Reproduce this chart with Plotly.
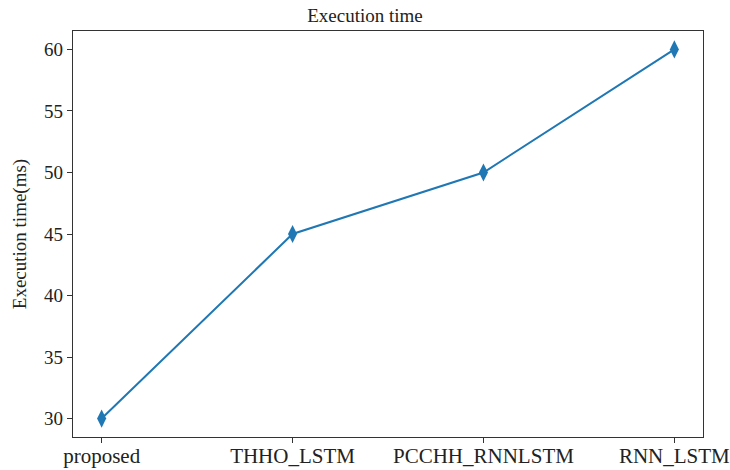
import plotly.graph_objects as go

methods = ["proposed", "THHO_LSTM", "PCCHH_RNNLSTM", "RNN_LSTM"]
exec_time_ms = [30, 45, 50, 60]
y_ticks = [30, 35, 40, 45, 50, 55, 60]

BLUE = "#1f77b4"
FONT = "Liberation Serif, Times New Roman, serif"
TEXT = "#222"

fig = go.Figure(
    go.Scatter(
        x=list(range(len(methods))),
        y=exec_time_ms,
        mode="lines+markers",
        line=dict(color=BLUE, width=2),
        marker=dict(symbol="diamond-tall", size=13, color=BLUE),
        showlegend=False,
    )
)

fig.update_layout(
    width=730,
    height=470,
    margin=dict(l=73, r=27, t=31, b=33),
    paper_bgcolor="white",
    plot_bgcolor="white",
    font=dict(family=FONT, size=19, color=TEXT),
    title=dict(
        text="Execution time",
        x=0.5,
        xanchor="center",
        y=0.968,
        yanchor="middle",
        automargin=False,
        font=dict(family=FONT, size=19, color=TEXT),
    ),
)

axis_common = dict(
    showgrid=False,
    zeroline=False,
    showline=True,
    linecolor="#333",
    linewidth=1.2,
    mirror=True,
    ticks="outside",
    ticklen=5,
    tickcolor="#333",
    automargin=False,
    ticklabeloverflow="allow",
)

fig.update_xaxes(
    tickmode="array",
    tickvals=list(range(len(methods))),
    ticktext=methods,
    range=[-0.15, len(methods) - 1 + 0.15],
    tickfont=dict(family=FONT, size=21, color=TEXT),
    ticklabelstandoff=-5,
    **axis_common,
)

fig.update_yaxes(
    tickmode="array",
    tickvals=y_ticks,
    range=[28.5, 61.5],
    tickfont=dict(family=FONT, size=19, color=TEXT),
    title=dict(text="Execution time(ms)", font=dict(family=FONT, size=19, color=TEXT), standoff=12),
    **axis_common,
)

fig.write_html("out.html")
